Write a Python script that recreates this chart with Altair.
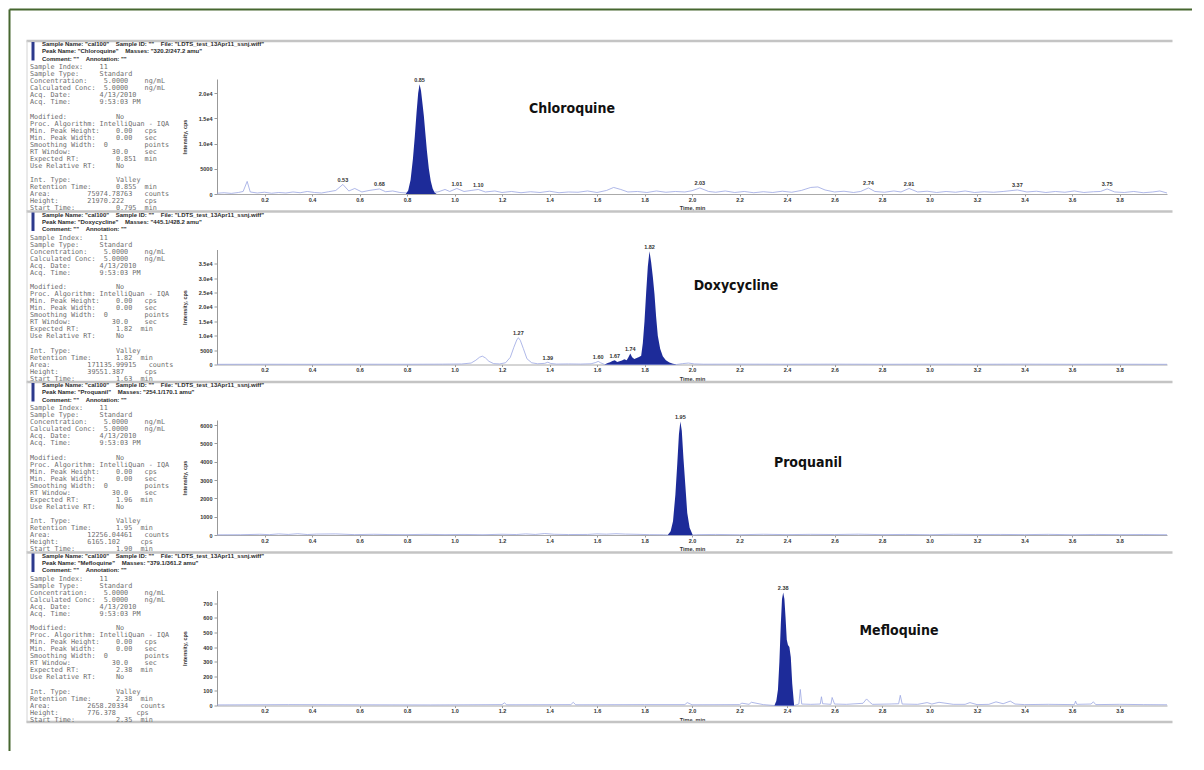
import altair as alt
import pandas as pd

# ---------------- data ----------------
X_TICKS = [0.2, 0.4, 0.6, 0.8, 1.0, 1.2, 1.4, 1.6, 1.8, 2.0,
           2.2, 2.4, 2.6, 2.8, 3.0, 3.2, 3.4, 3.6, 3.8]

# Chloroquine
CHL_NOISE_T = [0.00, 0.03, 0.06, 0.09, 0.11, 0.127, 0.14, 0.17, 0.20, 0.23, 0.26, 0.29,
               0.32, 0.35, 0.38, 0.41, 0.44, 0.47, 0.50, 0.53, 0.555, 0.58, 0.61, 0.64,
               0.684, 0.71, 0.74, 0.77, 0.80, 0.93, 0.96, 0.98, 1.01, 1.04, 1.07, 1.10,
               1.13, 1.17, 1.20, 1.24, 1.28, 1.32, 1.36, 1.40, 1.44, 1.48, 1.52, 1.56,
               1.60, 1.64, 1.67, 1.70, 1.73, 1.77, 1.81, 1.85, 1.89, 1.93, 1.97, 2.00,
               2.033, 2.07, 2.10, 2.14, 2.18, 2.22, 2.26, 2.30, 2.34, 2.38, 2.42, 2.46,
               2.50, 2.53, 2.56, 2.60, 2.64, 2.68, 2.71, 2.743, 2.77, 2.81, 2.85, 2.88,
               2.914, 2.95, 2.99, 3.03, 3.07, 3.11, 3.15, 3.19, 3.23, 3.27, 3.31, 3.37,
               3.41, 3.45, 3.49, 3.53, 3.57, 3.61, 3.65, 3.69, 3.72, 3.748, 3.78, 3.82,
               3.86, 3.90, 3.94, 3.97, 4.00]
CHL_NOISE_I = [150, 250, 120, 300, 500, 2500, 400, 200, 350, 150, 300, 200,
               400, 250, 500, 300, 200, 450, 700, 1900, 600, 1100, 400, 700,
               1000, 450, 600, 300, 200, 400, 900, 500, 1100, 500, 700, 900,
               400, 600, 300, 500, 250, 450, 300, 550, 250, 400, 350, 600,
               300, 700, 1300, 900, 400, 500, 300, 600, 350, 500, 400, 650,
               1200, 500, 350, 600, 300, 500, 250, 450, 300, 550, 350, 700,
               1300, 1400, 800, 400, 550, 300, 500, 1200, 500, 350, 600, 400,
               1100, 400, 550, 300, 500, 350, 600, 300, 450, 350, 500, 800,
               400, 550, 300, 500, 350, 600, 300, 450, 500, 1000, 400, 300,
               500, 250, 400, 600, 200]
CHL_PEAK_T = [0.795, 0.805, 0.815, 0.825, 0.833, 0.840, 0.847, 0.853, 0.859, 0.865,
              0.871, 0.877, 0.884, 0.892, 0.900, 0.908, 0.916, 0.925]
CHL_PEAK_I = [0, 700, 2800, 7000, 11500, 16000, 20000, 21800, 20500, 18000,
              15500, 12200, 8500, 5000, 2600, 1100, 300, 0]
CHL_LAB_T = [0.53, 0.684, 0.853, 1.01, 1.10, 2.033, 2.743, 2.914, 3.37, 3.748]
CHL_LAB_I = [1900, 1000, 21800, 1100, 900, 1200, 1200, 1100, 800, 1000]
CHL_LAB = ["0.53", "0.68", "0.85", "1.01", "1.10", "2.03", "2.74", "2.91", "3.37", "3.75"]
CHL_YTICKS = [0, 5000, 10000, 15000, 20000]

# Doxycycline
DOX_NOISE_T = [0.00, 0.20, 0.40, 0.60, 0.80, 0.95, 1.03, 1.07, 1.09, 1.105, 1.117, 1.13,
               1.145, 1.165, 1.19, 1.215, 1.235, 1.25, 1.262, 1.269, 1.277, 1.29, 1.305,
               1.325, 1.35, 1.38, 1.393, 1.405, 1.43, 1.48, 1.53, 1.575, 1.595, 1.605,
               1.615, 1.632, 1.935, 1.96, 1.985, 2.01, 2.05, 2.20, 2.40, 2.60, 2.80,
               3.00, 3.20, 3.40, 3.60, 3.80, 4.00]
DOX_NOISE_I = [60, 90, 70, 100, 80, 120, 180, 500, 1500, 2500, 2900, 2300,
               1100, 300, 200, 600, 2500, 6000, 8500, 9300, 8400, 5500, 2000,
               600, 250, 400, 800, 350, 150, 200, 150, 250, 700, 1100,
               600, 0, 0, 300, 500, 200, 100, 130, 90, 120, 80,
               110, 90, 120, 80, 100, 60]
DOX_PEAK_T = [1.632, 1.645, 1.655, 1.665, 1.675, 1.685, 1.695, 1.705, 1.715, 1.725,
              1.733, 1.740, 1.748, 1.757, 1.767, 1.777, 1.786, 1.793, 1.800, 1.807,
              1.814, 1.821, 1.828, 1.835, 1.842, 1.849, 1.856, 1.866, 1.877, 1.890,
              1.905, 1.920, 1.935]
DOX_PEAK_I = [0, 500, 800, 1200, 1500, 900, 1100, 1400, 1800, 1500,
              2600, 3800, 2500, 1900, 2300, 2600, 3000, 7500, 15000, 25000,
              34000, 39300, 35500, 30500, 24500, 16500, 10000, 5500, 2900, 1500,
              700, 300, 0]
DOX_LAB_T = [1.269, 1.393, 1.605, 1.675, 1.740, 1.821]
DOX_LAB_I = [9300, 800, 1100, 1500, 3800, 39300]
DOX_LAB = ["1.27", "1.39", "1.60", "1.67", "1.74", "1.82"]
DOX_YTICKS = [0, 5000, 10000, 15000, 20000, 25000, 30000, 35000]

# Proquanil
PRO_NOISE_T = [0.00, 0.10, 0.18, 0.22, 0.26, 0.30, 0.34, 0.38, 0.42, 0.50, 0.58, 0.66,
               0.72, 0.80, 0.88, 0.96, 1.04, 1.12, 1.20, 1.26, 1.30, 1.34, 1.38, 1.42,
               1.48, 1.56, 1.60, 1.64, 1.68, 1.72, 1.76, 1.82, 1.88, 1.898, 2.003,
               2.02, 2.10, 2.20, 2.30, 2.40, 2.50, 2.60, 2.70, 2.80, 2.90, 3.00, 3.10,
               3.20, 3.30, 3.40, 3.50, 3.60, 3.70, 3.80, 3.90, 4.00]
PRO_NOISE_I = [10, 15, 40, 20, 60, 30, 70, 25, 50, 60, 20, 40,
               25, 20, 35, 20, 30, 15, 40, 25, 60, 30, 80, 40,
               25, 30, 60, 45, 70, 50, 40, 20, 15, 0, 0,
               20, 30, 15, 40, 20, 35, 25, 45, 20, 30, 15, 40,
               25, 30, 20, 35, 15, 30, 20, 25, 15]
PRO_PEAK_T = [1.898, 1.910, 1.920, 1.930, 1.938, 1.945, 1.951, 1.957, 1.964, 1.972,
              1.980, 1.990, 2.003]
PRO_PEAK_I = [0, 200, 750, 2200, 3900, 5500, 6200, 5700, 4200, 2700, 1200, 400, 0]
PRO_LAB_T = [1.951]
PRO_LAB_I = [6200]
PRO_LAB = ["1.95"]
PRO_YTICKS = [0, 1000, 2000, 3000, 4000, 5000, 6000]

# Mefloquine
MEF_NOISE_T = [0.00, 0.30, 0.60, 0.90, 1.20, 1.21, 1.22, 1.49, 1.50, 1.51, 1.80, 1.97,
               1.98, 2.00, 2.20, 2.21, 2.24, 2.25, 2.30, 2.347, 2.430, 2.45, 2.456,
               2.462, 2.50, 2.54, 2.545, 2.55, 2.585, 2.59, 2.60, 2.65, 2.72, 2.735,
               2.75, 2.76, 2.83, 2.87, 2.877, 2.885, 2.95, 2.99, 3.01, 3.04, 3.10,
               3.15, 3.17, 3.20, 3.25, 3.28, 3.31, 3.34, 3.36, 3.40, 3.50, 3.61,
               3.615, 3.62, 3.68, 3.69, 3.70, 3.80, 3.90, 4.00]
MEF_NOISE_I = [4, 6, 5, 4, 6, 18, 5, 6, 22, 5, 6, 6,
               20, 5, 6, 16, 8, 22, 6, 0, 0, 10, 110,
               10, 8, 10, 60, 12, 8, 55, 10, 8, 15, 45,
               20, 8, 10, 12, 70, 10, 8, 20, 10, 22, 8,
               8, 20, 6, 8, 25, 12, 30, 10, 6, 8, 6,
               30, 8, 10, 25, 6, 8, 6, 5]
MEF_PEAK_T = [2.347, 2.355, 2.362, 2.368, 2.374, 2.379, 2.384, 2.389, 2.394, 2.399,
              2.404, 2.410, 2.416, 2.422, 2.430]
MEF_PEAK_I = [0, 30, 110, 300, 560, 730, 775, 730, 600, 450, 415, 400, 330, 150, 0]
MEF_LAB_T = [2.384]
MEF_LAB_I = [775]
MEF_LAB = ["2.38"]
MEF_YTICKS = [0, 100, 200, 300, 400, 500, 600, 700]

NAMES = ["Chloroquine", "Doxycycline", "Proquanil", "Mefloquine"]
MASSES = ["320.2/247.2 amu", "445.1/428.2 amu", "254.1/170.1 amu", "379.1/361.2 amu"]
Y_MAX = [22817, 39930, 6284, 788]
EXPECTED_RT = ["0.851", "1.82", "1.96", "2.38"]
RET_TIME = ["0.855", "1.82", "1.95", "2.38"]
AREA = ["75974.78763", "171135.99915", "12256.04461", "2658.20334"]
HEIGHT = ["21970.222", "39551.387", "6165.102", "776.378"]
START = ["0.795", "1.63", "1.90", "2.35"]

NB = "\u00a0"


def keep_spaces(lines):
    return [ln.replace(" ", NB) for ln in lines]


def info_groups(i):
    """Three blocks of lines, separated by one empty line each."""
    g1 = [
        "Sample Index:    11",
        "Sample Type:     Standard",
        "Concentration:    5.0000    ng/mL",
        "Calculated Conc:  5.0000    ng/mL",
        "Acq. Date:       4/13/2010",
        "Acq. Time:       9:53:03 PM",
    ]
    g2 = [
        "Modified:            No",
        "Proc. Algorithm: IntelliQuan - IQA",
        "Min. Peak Height:    0.00   cps",
        "Min. Peak Width:     0.00   sec",
        "Smoothing Width:  0         points",
        "RT Window:          30.0    sec",
        "Expected RT:         " + EXPECTED_RT[i] + "  min",
        "Use Relative RT:     No",
    ]
    g3 = [
        "Int. Type:           Valley",
        "Retention Time:      " + RET_TIME[i] + "  min",
        "Area:         " + AREA[i] + "   counts",
        "Height:       " + HEIGHT[i] + "     cps",
        "Start Time:          " + START[i] + "  min",
    ]
    return [(0, keep_spaces(g1)), (7, keep_spaces(g2)), (16, keep_spaces(g3))]


def header_lines(i):
    return keep_spaces([
        'Sample Name: "cal100"    Sample ID: ""    File: "LDTS_test_13Apr11_ssnj.wiff"',
        'Peak Name: "' + NAMES[i] + '"    Masses: "' + MASSES[i] + '"',
        'Comment: ""    Annotation: ""',
    ])


# ---------------- styles ----------------
W, H = 950, 115
PEAK_C = "#1d2b99"
NOISE_C = "#9ba6e2"
GRAY = "#c4c4c4"
GREEN = "#46672f"
SANS = "Liberation Sans, Arial, sans-serif"
MONO = "DejaVu Sans Mono, Liberation Mono, monospace"
NAME_FONT = "Liberation Sans Narrow, DejaVu Sans Condensed, Roboto, sans-serif"
NAME_POS = [(355, 29.5), (519, 36.5), (591, 43), (682, 40.5)]
INFO_LH = 7.05
ONE = pd.DataFrame({"a": [0]})

Y_LABEL_EXPR = ("datum.value >= 10000 ? format(datum.value / 10000, '.1f') + 'e4' "
                ": format(datum.value, 'd')")


def panel(i, nt, ni, pt, pi, lt, li, lab, yticks, last=False, first=False):
    xs = alt.Scale(domain=[0, 4.0], nice=False, zero=False)
    ys = alt.Scale(domain=[0, Y_MAX[i]], nice=False)
    xaxis = alt.Axis(values=X_TICKS, format=".1f", title="Time, min", grid=False,
                     labelFont=SANS, labelFontSize=5.5, labelFontWeight="bold",
                     labelColor="#333", labelPadding=1, tickSize=2, tickColor="#999",
                     domainColor="#aaa", titleFont=SANS, titleFontSize=5.5,
                     titleFontWeight="bold", titleColor="#333", titleX=W / 2,
                     titleY=13.5, titleBaseline="middle")
    yaxis = alt.Axis(values=yticks, labelExpr=Y_LABEL_EXPR, title="Intensity, cps",
                     grid=False, labelFont=SANS, labelFontSize=5.5,
                     labelFontWeight="bold", labelColor="#333", labelPadding=2,
                     tickSize=3, tickColor="#999", domainColor="#999",
                     titleFont=SANS, titleFontSize=5.5, titleFontWeight="bold",
                     titleColor="#333", titleX=-33, titleY=H / 2,
                     titleBaseline="middle", titleAlign="center")
    X = alt.X("t:Q", scale=xs, axis=xaxis)
    Y = alt.Y("i:Q", scale=ys, axis=yaxis)

    layers = []
    if first:
        layers.append(alt.Chart(ONE).mark_rule(color=GREEN, strokeWidth=2).encode(
            x=alt.value(-207.5), x2=alt.value(975), y=alt.value(-69.5)))
        layers.append(alt.Chart(ONE).mark_rule(color=GREEN, strokeWidth=2).encode(
            x=alt.value(-207.5), y=alt.value(-69.5), y2=alt.value(672)))
    # panel frame
    layers.append(alt.Chart(ONE).mark_rule(color=GRAY, strokeWidth=2.5).encode(
        x=alt.value(-190.5), x2=alt.value(955.5), y=alt.value(-38)))
    layers.append(alt.Chart(ONE).mark_rule(color="#d4d4d4", strokeWidth=1).encode(
        x=alt.value(-190), y=alt.value(-38), y2=alt.value(132)))
    if last:
        layers.append(alt.Chart(ONE).mark_rule(color=GRAY, strokeWidth=2.5).encode(
            x=alt.value(-190.5), x2=alt.value(955.5), y=alt.value(131.5)))
    # header
    layers.append(alt.Chart(ONE).mark_rect(color="#2d3a8c").encode(
        x=alt.value(-185.5), x2=alt.value(-182.5), y=alt.value(-37), y2=alt.value(-18.5)))
    layers.append(alt.Chart(ONE).mark_text(
        text=header_lines(i), align="left", baseline="top", font=SANS, fontSize=6,
        fontWeight="bold", color="#2a2a2a", lineHeight=7.25).encode(
        x=alt.value(-175), y=alt.value(-37.9)))
    # info block (three groups of lines)
    for start_row, lines in info_groups(i):
        layers.append(alt.Chart(ONE).mark_text(
            text=lines, align="left", baseline="top", font=MONO, fontSize=6.8,
            color="#6e6e6e", lineHeight=INFO_LH).encode(
            x=alt.value(-187), y=alt.value(-14.8 + start_row * INFO_LH)))
    # data
    layers.append(alt.Chart(pd.DataFrame({"t": nt, "i": ni})).mark_line(
        color=NOISE_C, strokeWidth=0.8).encode(x=X, y=Y))
    layers.append(alt.Chart(pd.DataFrame({"t": pt, "i": pi})).mark_area(
        color=PEAK_C, opacity=1).encode(x=X, y=Y))
    layers.append(alt.Chart(pd.DataFrame({"t": lt, "i": li, "lab": lab})).mark_text(
        baseline="bottom", dy=-1.5, font=SANS, fontSize=5.5, fontWeight="bold",
        color="#333").encode(x=X, y=Y, text="lab:N"))
    nx, ny = NAME_POS[i]
    layers.append(alt.Chart(ONE).mark_text(
        font=NAME_FONT, fontSize=14, fontWeight="bold", color="#111",
        baseline="middle", align="center").encode(
        x=alt.value(nx), y=alt.value(ny), text=alt.value(NAMES[i])))
    return alt.layer(*layers).properties(width=W, height=H)


p1 = panel(0, CHL_NOISE_T, CHL_NOISE_I, CHL_PEAK_T, CHL_PEAK_I, CHL_LAB_T, CHL_LAB_I,
           CHL_LAB, CHL_YTICKS, first=True)
p2 = panel(1, DOX_NOISE_T, DOX_NOISE_I, DOX_PEAK_T, DOX_PEAK_I, DOX_LAB_T, DOX_LAB_I,
           DOX_LAB, DOX_YTICKS)
p3 = panel(2, PRO_NOISE_T, PRO_NOISE_I, PRO_PEAK_T, PRO_PEAK_I, PRO_LAB_T, PRO_LAB_I,
           PRO_LAB, PRO_YTICKS)
p4 = panel(3, MEF_NOISE_T, MEF_NOISE_I, MEF_PEAK_T, MEF_PEAK_I, MEF_LAB_T, MEF_LAB_I,
           MEF_LAB, MEF_YTICKS, last=True)

chart = alt.vconcat(p1, p2, p3, p4, spacing=55.5, bounds="flush").properties(
    padding=0, background="white").configure_view(stroke=None)

chart.save("out.html", embed_options={"renderer": "svg", "actions": False})
